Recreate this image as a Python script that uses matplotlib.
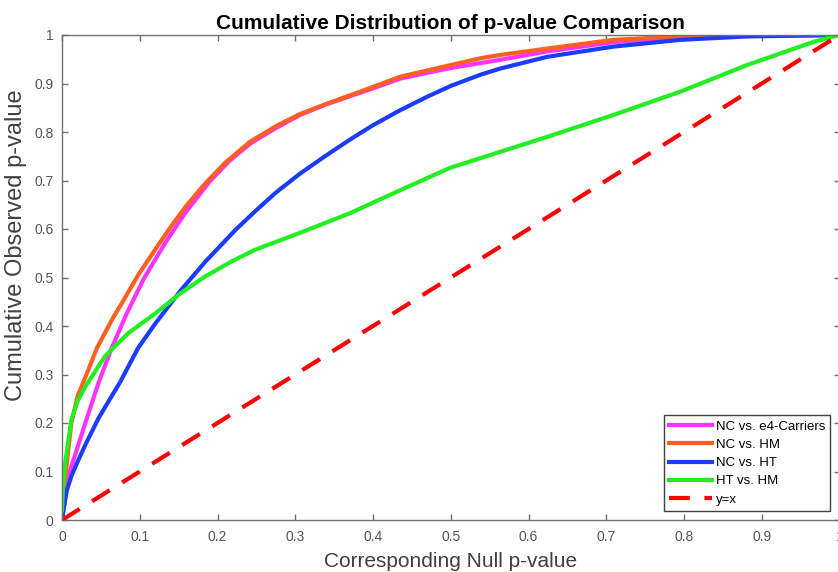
import matplotlib
matplotlib.use("Agg")
import matplotlib.pyplot as plt
from matplotlib.ticker import FuncFormatter

plt.rcParams['font.family'] = ['Liberation Sans', 'DejaVu Sans']

# NC vs. e4-Carriers (magenta)
e4_x = [0, 0.003, 0.010, 0.020, 0.030, 0.047, 0.064, 0.083, 0.105, 0.133, 0.158,
        0.190, 0.215, 0.242, 0.275, 0.306, 0.340, 0.371, 0.400, 0.435, 0.470,
        0.500, 0.538, 0.564, 0.624, 0.709, 0.795, 0.880, 1.000]
e4_y = [0, 0.04, 0.10, 0.15, 0.20, 0.283, 0.355, 0.425, 0.497, 0.572, 0.632,
        0.698, 0.740, 0.776, 0.808, 0.835, 0.857, 0.874, 0.890, 0.910, 0.922,
        0.932, 0.942, 0.949, 0.966, 0.985, 0.995, 0.999, 1.0]

# NC vs. HM (orange)
hm_x = [0, 0.001, 0.005, 0.012, 0.020, 0.034, 0.045, 0.055, 0.066, 0.077, 0.098,
        0.120, 0.141, 0.160, 0.182, 0.210, 0.242, 0.275, 0.306, 0.340, 0.371,
        0.400, 0.435, 0.470, 0.500, 0.538, 0.564, 0.624, 0.709, 0.795, 0.880, 1.000]
hm_y = [0, 0.05, 0.10, 0.20, 0.255, 0.31, 0.355, 0.385, 0.418, 0.447, 0.505,
        0.558, 0.607, 0.648, 0.690, 0.737, 0.780, 0.812, 0.837, 0.858, 0.876,
        0.893, 0.914, 0.927, 0.938, 0.952, 0.959, 0.972, 0.990, 0.997, 0.999, 1.0]

# NC vs. HT (blue)
ht_x = [0, 0.002, 0.006, 0.012, 0.020, 0.030, 0.047, 0.060, 0.075, 0.098, 0.120,
        0.152, 0.184, 0.223, 0.248, 0.275, 0.306, 0.340, 0.371, 0.400, 0.435,
        0.470, 0.500, 0.538, 0.564, 0.624, 0.709, 0.795, 0.881, 1.000]
ht_y = [0, 0.02, 0.06, 0.09, 0.12, 0.155, 0.21, 0.245, 0.285, 0.355, 0.405,
        0.472, 0.532, 0.598, 0.636, 0.675, 0.714, 0.752, 0.785, 0.814, 0.845,
        0.873, 0.895, 0.918, 0.931, 0.955, 0.976, 0.990, 0.997, 1.0]

# HT vs. HM (green)
hthm_x = [0, 0.001, 0.004, 0.012, 0.020, 0.030, 0.055, 0.085, 0.120, 0.152, 0.184,
          0.218, 0.248, 0.306, 0.371, 0.435, 0.499, 0.538, 0.624, 0.709, 0.795,
          0.881, 0.967, 1.000]
hthm_y = [0.02, 0.06, 0.117, 0.206, 0.245, 0.275, 0.337, 0.385, 0.426, 0.467, 0.502,
          0.533, 0.557, 0.592, 0.633, 0.680, 0.726, 0.746, 0.790, 0.835, 0.883,
          0.938, 0.986, 1.0]

# reference line
ref_x = [0, 1]
ref_y = [0, 1]

ticks = [0, 0.1, 0.2, 0.3, 0.4, 0.5, 0.6, 0.7, 0.8, 0.9, 1]

fig = plt.figure(figsize=(8.38, 5.72), dpi=100)
ax = fig.add_axes([62 / 838, 52 / 572, 777.5 / 838, 485 / 572])

lw = 3
ax.plot(e4_x, e4_y, color='#FF33FF', lw=lw, label='NC vs. e4-Carriers')
ax.plot(hm_x, hm_y, color='#FF6020', lw=lw, label='NC vs. HM')
ax.plot(ht_x, ht_y, color='#1A3CFF', lw=lw, label='NC vs. HT')
ax.plot(hthm_x, hthm_y, color='#22EE22', lw=lw, label='HT vs. HM')
ax.plot(ref_x, ref_y, color='#FF0000', lw=lw, dashes=(5, 3.5), label='y=x')

ax.set_xlim(0, 1)
ax.set_ylim(0, 1)
ax.set_xticks(ticks)
ax.set_yticks(ticks)
fmt = FuncFormatter(lambda v, p: '%g' % v)
ax.xaxis.set_major_formatter(fmt)
ax.yaxis.set_major_formatter(fmt)

gray = '#707070'
for s in ax.spines.values():
    s.set_color(gray)
    s.set_linewidth(1.0)
ax.tick_params(direction='in', length=4, width=1, color=gray,
               top=True, right=True, labelsize=10, labelcolor='#555555')
ax.tick_params(axis='y', pad=6)
ax.tick_params(axis='x', pad=7)

ax.set_title('Cumulative Distribution of p-value Comparison',
             fontsize=15, fontweight='bold', pad=4)
ax.set_xlabel('Corresponding Null p-value', fontsize=15, color='#404040')
ax.set_ylabel('Cumulative Observed p-value', fontsize=17, color='#404040')
ax.xaxis.set_label_coords(0.5, -0.066)
ax.yaxis.set_label_coords(-0.045, 0.567)

leg = ax.legend(loc='lower right', bbox_to_anchor=(0.988, 0.019),
                borderaxespad=0, fontsize=9.5, fancybox=False, framealpha=1,
                edgecolor='#404040', handlelength=3.2, handletextpad=0.3,
                labelspacing=0.45, borderpad=0.4)
leg.get_frame().set_linewidth(1.0)

fig.savefig('out.png', dpi=100)
